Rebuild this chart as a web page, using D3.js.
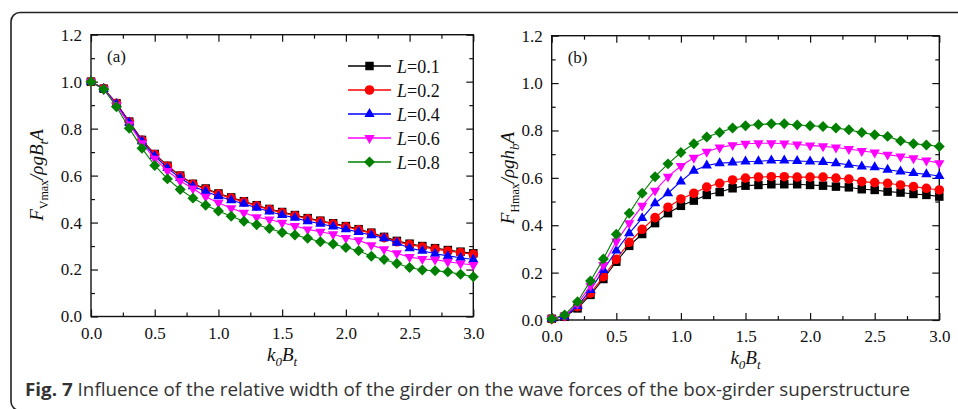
<!DOCTYPE html>
<html>
<head>
<meta charset="utf-8">
<script src="https://cdn.jsdelivr.net/npm/d3@7"></script>
<style>
  html, body { margin: 0; padding: 0; background: #fff; }
  svg { display: block; }
  .tick text { font-family: "Liberation Serif", "Times New Roman", serif; font-size: 17px; fill: #111; }
  .tick line { stroke: #111; stroke-width: 1.2; }
</style>
</head>
<body>
<svg id="fig" width="958" height="409"></svg>
<script>
// Wave number times girder width (horizontal axis of both panels)
const kB = [0.0, 0.1, 0.2, 0.3, 0.4, 0.5, 0.6, 0.7, 0.8, 0.9, 1.0,
            1.1, 1.2, 1.3, 1.4, 1.5, 1.6, 1.7, 1.8, 1.9, 2.0,
            2.1, 2.2, 2.3, 2.4, 2.5, 2.6, 2.7, 2.8, 2.9, 3.0];

const seriesNames = ["L=0.1", "L=0.2", "L=0.4", "L=0.6", "L=0.8"];
const seriesColors = ["#000000", "#ff0000", "#0000ff", "#ff00ff", "#008000"];
const seriesMarkers = ["square", "circle", "triangleUp", "triangleDown", "diamond"];

// (a) vertical force F_Vmax / (rho g B_t A)
const vForce01 = [1.000, 0.970, 0.908, 0.830, 0.752, 0.692, 0.642, 0.600, 0.565, 0.545, 0.524,
                  0.507, 0.491, 0.474, 0.458, 0.445, 0.432, 0.419, 0.408, 0.397, 0.385,
                  0.372, 0.357, 0.339, 0.322, 0.310, 0.300, 0.291, 0.283, 0.276, 0.269];
const vForce02 = [1.000, 0.971, 0.908, 0.829, 0.750, 0.690, 0.640, 0.598, 0.563, 0.542, 0.521,
                  0.504, 0.488, 0.471, 0.455, 0.442, 0.429, 0.416, 0.405, 0.394, 0.382,
                  0.369, 0.354, 0.336, 0.318, 0.306, 0.296, 0.287, 0.279, 0.272, 0.265];
const vForce04 = [1.000, 0.970, 0.905, 0.826, 0.746, 0.683, 0.632, 0.590, 0.555, 0.532, 0.512,
                  0.495, 0.480, 0.463, 0.447, 0.432, 0.420, 0.406, 0.395, 0.383, 0.371,
                  0.360, 0.346, 0.333, 0.314, 0.291, 0.280, 0.267, 0.258, 0.250, 0.243];
const vForce06 = [1.000, 0.968, 0.900, 0.818, 0.738, 0.672, 0.620, 0.577, 0.545, 0.510, 0.484,
                  0.461, 0.442, 0.423, 0.413, 0.399, 0.385, 0.371, 0.361, 0.350, 0.334,
                  0.325, 0.304, 0.286, 0.269, 0.253, 0.245, 0.242, 0.233, 0.226, 0.219];
const vForce08 = [1.000, 0.968, 0.893, 0.802, 0.716, 0.643, 0.586, 0.541, 0.504, 0.474, 0.449,
                  0.427, 0.406, 0.391, 0.375, 0.358, 0.347, 0.333, 0.318, 0.309, 0.294,
                  0.280, 0.257, 0.243, 0.226, 0.209, 0.198, 0.195, 0.190, 0.180, 0.169];

// (b) horizontal force F_Hmax / (rho g h_b A)
const hForce01 = [0.005, 0.014, 0.049, 0.106, 0.173, 0.246, 0.313, 0.363, 0.409, 0.451, 0.482,
                  0.504, 0.528, 0.540, 0.556, 0.567, 0.570, 0.573, 0.573, 0.573, 0.570,
                  0.567, 0.563, 0.560, 0.552, 0.549, 0.542, 0.538, 0.532, 0.528, 0.521];
const hForce02 = [0.005, 0.016, 0.056, 0.113, 0.183, 0.256, 0.328, 0.383, 0.432, 0.476, 0.511,
                  0.535, 0.561, 0.577, 0.591, 0.599, 0.603, 0.605, 0.605, 0.603, 0.603,
                  0.603, 0.599, 0.595, 0.584, 0.580, 0.577, 0.570, 0.563, 0.556, 0.549];
const hForce04 = [0.005, 0.015, 0.059, 0.127, 0.211, 0.293, 0.366, 0.430, 0.493, 0.535, 0.585,
                  0.630, 0.652, 0.662, 0.665, 0.669, 0.670, 0.673, 0.673, 0.671, 0.669,
                  0.667, 0.662, 0.655, 0.648, 0.645, 0.634, 0.627, 0.620, 0.615, 0.608];
const hForce06 = [0.005, 0.018, 0.068, 0.144, 0.232, 0.331, 0.409, 0.482, 0.546, 0.605, 0.650,
                  0.685, 0.710, 0.728, 0.738, 0.744, 0.746, 0.746, 0.745, 0.741, 0.737,
                  0.733, 0.728, 0.722, 0.713, 0.707, 0.698, 0.690, 0.683, 0.673, 0.662];
const hForce08 = [0.005, 0.021, 0.077, 0.165, 0.258, 0.362, 0.451, 0.535, 0.605, 0.659, 0.707,
                  0.744, 0.772, 0.791, 0.810, 0.820, 0.825, 0.828, 0.828, 0.823, 0.820,
                  0.817, 0.810, 0.803, 0.791, 0.782, 0.775, 0.756, 0.744, 0.739, 0.732];

const xMajorTicks = [0.0, 0.5, 1.0, 1.5, 2.0, 2.5, 3.0];
const xMinorTicks = [0.25, 0.75, 1.25, 1.75, 2.25, 2.75];
const yMajorTicks = [0.0, 0.2, 0.4, 0.6, 0.8, 1.0, 1.2];
const yMinorTicks = [0.1, 0.3, 0.5, 0.7, 0.9, 1.1];

const captionBold = "Fig. 7";
const captionText = " Influence of the relative width of the girder on the wave forces of the box-girder superstructure";

const svg = d3.select("#fig");
const serif = "'Liberation Serif', 'Times New Roman', serif";

// outer rounded frame
svg.append("rect")
  .attr("x", 11).attr("y", 12.5)
  .attr("width", 1000).attr("height", 398)
  .attr("rx", 9).attr("ry", 9)
  .attr("fill", "none").attr("stroke", "#222").attr("stroke-width", 1.6);

const markerPath = {
  square: d3.symbol(d3.symbolSquare, 72)(),
  circle: d3.symbol(d3.symbolCircle, 72)(),
  triangleUp: d3.symbol(d3.symbolTriangle, 46)(),
  triangleDown: d3.symbol(d3.symbolTriangle, 46)(),
  diamond: d3.symbol(d3.symbolSquare, 60)()
};
const markerRotate = { square: 0, circle: 0, triangleUp: 0, triangleDown: 180, diamond: 45 };

function drawPanel(cfg) {
  const x = d3.scaleLinear().domain([0, 3]).range([cfg.left, cfg.right]);
  const y = d3.scaleLinear().domain([0, 1.2]).range([cfg.bottom, cfg.top]);
  const g = svg.append("g");

  // axes with inward ticks on all four sides
  const fmt = d3.format(".1f");
  g.append("g").attr("transform", `translate(0,${cfg.bottom})`)
    .call(d3.axisBottom(x).tickValues(xMajorTicks).tickFormat(fmt).tickSize(-7).tickPadding(10));
  g.append("g").attr("transform", `translate(0,${cfg.bottom})`)
    .call(d3.axisBottom(x).tickValues(xMinorTicks).tickFormat("").tickSize(-4));
  g.append("g").attr("transform", `translate(0,${cfg.top})`)
    .call(d3.axisTop(x).tickValues(xMajorTicks).tickFormat("").tickSize(-7));
  g.append("g").attr("transform", `translate(0,${cfg.top})`)
    .call(d3.axisTop(x).tickValues(xMinorTicks).tickFormat("").tickSize(-4));
  g.append("g").attr("transform", `translate(${cfg.left},0)`)
    .call(d3.axisLeft(y).tickValues(yMajorTicks).tickFormat(fmt).tickSize(-7).tickPadding(9));
  g.append("g").attr("transform", `translate(${cfg.left},0)`)
    .call(d3.axisLeft(y).tickValues(yMinorTicks).tickFormat("").tickSize(-4));
  g.append("g").attr("transform", `translate(${cfg.right},0)`)
    .call(d3.axisRight(y).tickValues(yMajorTicks).tickFormat("").tickSize(-7));
  g.append("g").attr("transform", `translate(${cfg.right},0)`)
    .call(d3.axisRight(y).tickValues(yMinorTicks).tickFormat("").tickSize(-4));
  g.selectAll(".domain").remove();
  g.selectAll(".tick text").attr("fill", "#111");

  // plot box
  g.append("rect")
    .attr("x", cfg.left).attr("y", cfg.top)
    .attr("width", cfg.right - cfg.left).attr("height", cfg.bottom - cfg.top)
    .attr("fill", "none").attr("stroke", "#111").attr("stroke-width", 1.4);

  const line = d3.line().x((d, i) => x(kB[i])).y(d => y(d));
  cfg.series.forEach((vals, s) => {
    const sg = g.append("g");
    sg.append("path").attr("d", line(vals))
      .attr("fill", "none").attr("stroke", seriesColors[s]).attr("stroke-width", 1.1);
    const m = seriesMarkers[s];
    sg.selectAll("path.mk").data(vals).join("path").attr("class", "mk")
      .attr("d", markerPath[m])
      .attr("transform", (d, i) => `translate(${x(kB[i])},${y(d)}) rotate(${markerRotate[m]})`)
      .attr("fill", seriesColors[s]);
  });

  // panel tag
  g.append("text").attr("x", cfg.left + 16).attr("y", cfg.top + 27)
    .attr("font-family", serif).attr("font-size", 17).attr("fill", "#111")
    .text(cfg.tag);

  // x-axis title k0Bt
  const xt = g.append("text")
    .attr("x", (cfg.left + cfg.right) / 2).attr("y", cfg.bottom + 44)
    .attr("text-anchor", "middle")
    .attr("font-family", serif).attr("font-size", 19).attr("font-style", "italic").attr("fill", "#111");
  xt.append("tspan").text("k");
  xt.append("tspan").attr("font-size", 13).attr("dy", 5).text("0");
  xt.append("tspan").attr("dy", -5).text("B");
  xt.append("tspan").attr("font-size", 13).attr("dy", 5).text("t");

  // y-axis title
  const yt = g.append("text")
    .attr("transform", `translate(${cfg.ylabX},${cfg.ylabY}) rotate(-90)`)
    .attr("text-anchor", "middle")
    .attr("font-family", serif).attr("font-size", 19).attr("font-style", "italic").attr("fill", "#111");
  yt.append("tspan").text("F");
  yt.append("tspan").attr("font-size", 12).attr("font-style", "normal").attr("dy", 5).text(cfg.ySub);
  yt.append("tspan").attr("dy", -5).text("/ρg" + cfg.yMid);
  yt.append("tspan").attr("font-size", 13).attr("dy", 5).text(cfg.yMidSub);
  yt.append("tspan").attr("dy", -5).text("A");

  return { x, y, g };
}

drawPanel({
  left: 91, right: 473.3, top: 34.7, bottom: 316.5, tag: "(a)",
  ylabX: 43, ylabY: 175, ySub: "Vmax", yMid: "B", yMidSub: "t",
  series: [vForce01, vForce02, vForce04, vForce06, vForce08]
});
drawPanel({
  left: 551.7, right: 939.3, top: 35.7, bottom: 320, tag: "(b)",
  ylabX: 514, ylabY: 178, ySub: "Hmax", yMid: "h", yMidSub: "b",
  series: [hForce01, hForce02, hForce04, hForce06, hForce08]
});

// legend in panel (a)
const leg = svg.append("g");
seriesNames.forEach((name, s) => {
  const ry = 66 + s * 24;
  leg.append("line").attr("x1", 348).attr("x2", 391).attr("y1", ry).attr("y2", ry)
    .attr("stroke", seriesColors[s]).attr("stroke-width", 1.4);
  const m = seriesMarkers[s];
  leg.append("path").attr("d", markerPath[m])
    .attr("transform", `translate(369.5,${ry}) rotate(${markerRotate[m]})`)
    .attr("fill", seriesColors[s]);
  const t = leg.append("text").attr("x", 397).attr("y", ry + 6.5)
    .attr("font-family", serif).attr("font-size", 18).attr("fill", "#111");
  const parts = name.split("=");
  t.append("tspan").attr("font-style", "italic").text(parts[0]);
  t.append("tspan").text("=" + parts[1]);
});

// caption
const cap = svg.append("text").attr("x", 25).attr("y", 396)
  .attr("font-family", "'Open Sans', 'Noto Sans', sans-serif").attr("font-size", 18).attr("fill", "#333")
  .attr("textLength", 885).attr("lengthAdjust", "spacingAndGlyphs");
cap.append("tspan").attr("font-weight", "bold").text(captionBold);
cap.append("tspan").text(captionText);
</script>
</body>
</html>
